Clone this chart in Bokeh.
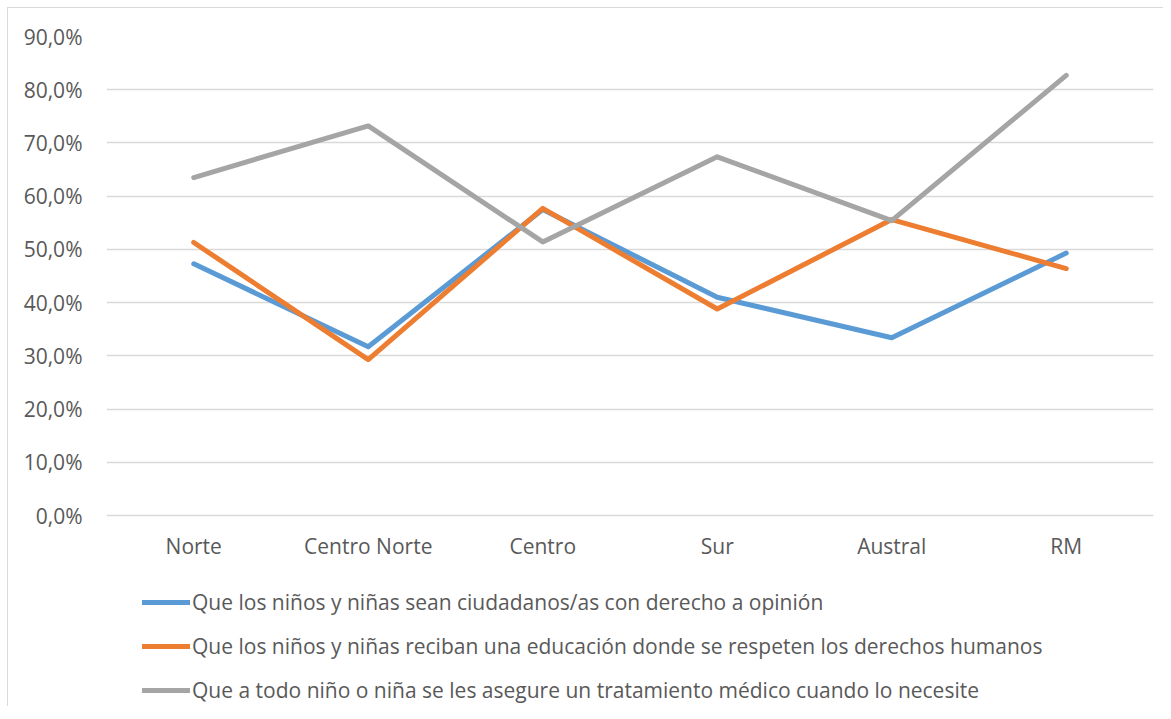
from bokeh.plotting import figure
from bokeh.models import (FactorRange, Range1d, Legend, LegendItem, CustomJSTickFormatter,
                          FixedTicker)
from bokeh.embed import file_html
from bokeh.resources import INLINE

categories = ["Norte", "Centro Norte", "Centro", "Sur", "Austral", "RM"]
serie_opinion = [47.3, 31.7, 57.5, 41.0, 33.4, 49.3]
serie_educacion = [51.3, 29.3, 57.7, 38.8, 55.6, 46.4]
serie_medico = [63.5, 73.2, 51.4, 67.4, 55.4, 82.7]
labels = [
    "Que los niños y niñas sean ciudadanos/as con derecho a opinión",
    "Que los niños y niñas reciban una educación donde se respeten los derechos humanos",
    "Que a todo niño o niña se les asegure un tratamiento médico cuando lo necesite",
]
colors = ["#5B9BD5", "#ED7D31", "#A5A5A5"]
y_ticks = [0, 10, 20, 30, 40, 50, 60, 70, 80, 90]

FONT = "Open Sans"
TXT = "#595959"
FS = "21px"

# layout: 0..90 spans 479 px; frame extends below to host the legend
FRAME_H = 670
PX_PER_UNIT = 479 / 90
y_start = 90 - FRAME_H / PX_PER_UNIT

p = figure(frame_width=1047, frame_height=FRAME_H, x_range=FactorRange(factors=categories),
           y_range=Range1d(y_start, 90), output_backend="svg", toolbar_location=None,
           min_border_left=106, min_border_right=10, min_border_top=36, min_border_bottom=0)
p.styles = {"box-shadow": "inset 7px 7px 0 0 #ffffff, inset 8px 8px 0 0 #d9d9d9"}
p.outline_line_color = None
p.background_fill_color = "white"
p.border_fill_color = None

renderers = []
for vals, col in zip([serie_opinion, serie_educacion, serie_medico], colors):
    r = p.line(categories, vals, line_color=col, line_width=5, line_cap="round", line_join="round")
    renderers.append(r)

p.yaxis.ticker = FixedTicker(ticks=y_ticks)
p.yaxis.formatter = CustomJSTickFormatter(code="return tick.toFixed(1).replace('.', ',') + '%';")
p.yaxis.axis_line_color = None
p.yaxis.major_tick_line_color = None
p.yaxis.minor_tick_line_color = None
p.yaxis.major_label_standoff = 18
p.yaxis.major_label_text_font = FONT
p.yaxis.major_label_text_font_size = FS
p.yaxis.major_label_text_color = TXT

# x axis drawn inside the extended frame, just under the 0% line
p.xaxis.fixed_location = -41 / PX_PER_UNIT
p.xaxis.axis_line_color = None
p.xaxis.major_tick_line_color = None
p.xaxis.minor_tick_line_color = None
p.xaxis.major_tick_out = 0
p.xaxis.major_label_standoff = -25
p.xaxis.major_label_text_font = FONT
p.xaxis.major_label_text_font_size = FS
p.xaxis.major_label_text_color = TXT

p.xgrid.grid_line_color = None
p.ygrid.grid_line_color = "#d9d9d9"
p.ygrid.grid_line_width = 1.5
p.ygrid.ticker = FixedTicker(ticks=y_ticks)

legend = Legend(items=[LegendItem(label=l, renderers=[r]) for l, r in zip(labels, renderers)],
                location=(36, 2), orientation="vertical", padding=0, margin=0,
                spacing=16, glyph_width=48, glyph_height=20, label_height=20,
                label_standoff=2, border_line_color=None, background_fill_alpha=0,
                label_text_font=FONT, label_text_font_size=FS, label_text_color=TXT)
p.add_layout(legend, "center")

open("out.html", "w").write(file_html(p, INLINE))
